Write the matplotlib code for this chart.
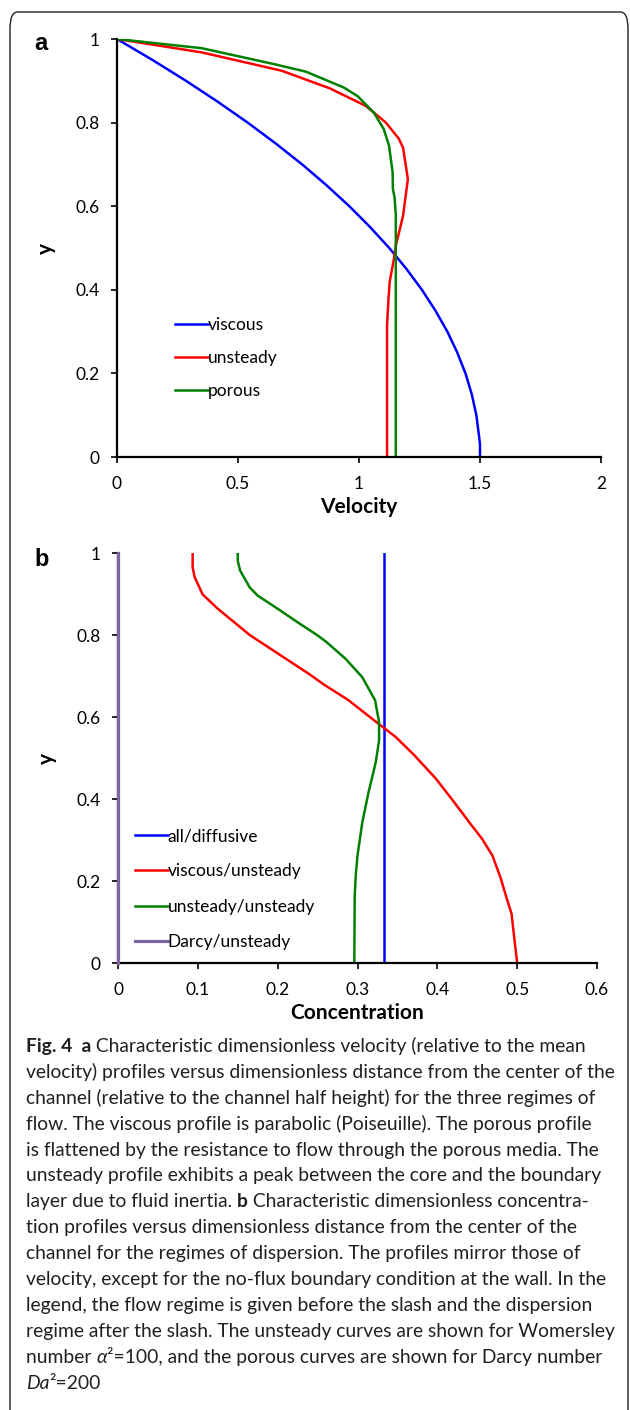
import matplotlib
matplotlib.use('Agg')
import matplotlib.pyplot as plt
from matplotlib.patches import FancyBboxPatch

W, H = 630, 1410

# ---- panel a: velocity profiles (x = velocity, y = distance from centre) ----
visc_y = [1.0, 0.95, 0.9, 0.85, 0.8, 0.75, 0.7, 0.65, 0.6, 0.55, 0.5, 0.45,
          0.4, 0.35, 0.3, 0.25, 0.2, 0.15, 0.1, 0.05, 0.03, 0.0]
visc_u = [0.0, 0.146, 0.285, 0.416, 0.54, 0.656, 0.765, 0.866, 0.96, 1.046,
          1.125, 1.196, 1.26, 1.316, 1.365, 1.406, 1.44, 1.466, 1.485, 1.496,
          1.5, 1.5]

unst_y = [1.0, 0.968, 0.924, 0.882, 0.84, 0.80, 0.762, 0.74, 0.665, 0.577,
          0.505, 0.473, 0.42, 0.38, 0.316, 0.0]
unst_u = [0.0, 0.35, 0.681, 0.879, 1.028, 1.111, 1.164, 1.182, 1.202, 1.182,
          1.152, 1.144, 1.127, 1.122, 1.116, 1.116]

por_y = [1.0, 0.978, 0.94, 0.922, 0.884, 0.863, 0.824, 0.785, 0.745, 0.681,
         0.641, 0.621, 0.58, 0.0]
por_u = [0.0, 0.35, 0.648, 0.78, 0.937, 0.995, 1.061, 1.102, 1.124, 1.139,
         1.140, 1.147, 1.152, 1.152]

# ---- panel b: concentration profiles ----
diff_y = [0.0, 1.0]
diff_c = [0.333, 0.333]

vu_y = [1.0, 0.965, 0.941, 0.899, 0.864, 0.80, 0.704, 0.679, 0.642, 0.584,
        0.551, 0.507, 0.45, 0.40, 0.364, 0.343, 0.303, 0.262, 0.209, 0.157,
        0.12, 0.067, 0.0]
vu_c = [0.0935, 0.0935, 0.096, 0.106, 0.125, 0.165, 0.240, 0.258, 0.288,
        0.326, 0.348, 0.371, 0.398, 0.418, 0.432, 0.440, 0.456, 0.469, 0.479,
        0.487, 0.493, 0.496, 0.500]

uu_y = [1.0, 0.981, 0.957, 0.916, 0.896, 0.864, 0.831, 0.799, 0.783, 0.742,
        0.697, 0.641, 0.588, 0.543, 0.491, 0.45, 0.418, 0.343, 0.262, 0.218,
        0.165, 0.0]
uu_c = [0.150, 0.150, 0.153, 0.165, 0.175, 0.200, 0.225, 0.250, 0.261, 0.285,
        0.306, 0.322, 0.327, 0.327, 0.323, 0.318, 0.314, 0.306, 0.300, 0.298,
        0.2965, 0.296]

darcy_y = [0.0, 1.0]
darcy_c = [0.0, 0.0]

labels_a = ['viscous', 'unsteady', 'porous']
labels_b = ['all/diffusive', 'viscous/unsteady', 'unsteady/unsteady', 'Darcy/unsteady']

BLUE, RED, GREEN, PURPLE = '#0000FF', '#FF0000', '#008000', '#8064A2'
TICK_FONT = 'Lato'
CAP_FONT = 'Lato'

fig = plt.figure(figsize=(W / 100, H / 100), dpi=100)

# rounded frame round the figure
frame = FancyBboxPatch((10 / W, -0.05), 618 / W, 1.05 - 12 / H,
                       boxstyle='round,pad=0,rounding_size=0.012',
                       transform=fig.transFigure, fill=False,
                       edgecolor='#222222', linewidth=1.0)
fig.patches.append(frame)


def px_axes(left, right, top, bottom):
    return fig.add_axes([left / W, 1 - bottom / H, (right - left) / W, (bottom - top) / H])


def style_axes(ax):
    for s in ['top', 'right']:
        ax.spines[s].set_visible(False)
    for s in ['left', 'bottom']:
        ax.spines[s].set_linewidth(1.6)
    ax.tick_params(direction='out', length=4.5, width=1.2, labelsize=12.5)
    ax.tick_params(axis='y', pad=8)
    ax.tick_params(axis='x', pad=9)
    for lab in ax.get_xticklabels() + ax.get_yticklabels():
        lab.set_family(TICK_FONT)


def fmt(v):
    return '%g' % v


lw = 1.8

# ---- panel a ----
axa = px_axes(117, 601, 39, 457)
axa.plot(visc_u, visc_y, color=BLUE, lw=lw, label=labels_a[0])
axa.plot(unst_u, unst_y, color=RED, lw=lw, label=labels_a[1])
axa.plot(por_u, por_y, color=GREEN, lw=lw, label=labels_a[2])
axa.set_xlim(0, 2)
axa.set_ylim(0, 1)
axa.set_xticks([0, 0.5, 1, 1.5, 2])
axa.set_xticklabels([fmt(v) for v in [0, 0.5, 1, 1.5, 2]])
axa.set_yticks([0, 0.2, 0.4, 0.6, 0.8, 1])
axa.set_yticklabels([fmt(v) for v in [0, 0.2, 0.4, 0.6, 0.8, 1]])
style_axes(axa)
axa.set_xlabel('Velocity', family=TICK_FONT, fontweight='bold', fontsize=15, labelpad=4)
axa.set_ylabel('y', family=TICK_FONT, fontweight='bold', fontsize=15, labelpad=14)
axa.legend(loc='center left', bbox_to_anchor=(0.12, 0.237), frameon=False,
           prop={'family': TICK_FONT, 'size': 12.5}, handlelength=1.9,
           handletextpad=0.0, labelspacing=0.97, borderpad=0, borderaxespad=0)

# ---- panel b ----
axb = px_axes(118, 597, 553, 963)
axb.plot(diff_c, diff_y, color=BLUE, lw=lw, label=labels_b[0])
axb.plot(vu_c, vu_y, color=RED, lw=lw, label=labels_b[1])
axb.plot(uu_c, uu_y, color=GREEN, lw=lw, label=labels_b[2])
axb.plot(darcy_c, darcy_y, color=PURPLE, lw=lw + 0.5, label=labels_b[3], clip_on=False, zorder=5)
axb.set_xlim(0, 0.6)
axb.set_ylim(0, 1)
axb.set_xticks([0, 0.1, 0.2, 0.3, 0.4, 0.5, 0.6])
axb.set_xticklabels([fmt(v) for v in [0, 0.1, 0.2, 0.3, 0.4, 0.5, 0.6]])
axb.set_yticks([0, 0.2, 0.4, 0.6, 0.8, 1])
axb.set_yticklabels([fmt(v) for v in [0, 0.2, 0.4, 0.6, 0.8, 1]])
style_axes(axb)
axb.set_xlabel('Concentration', family=TICK_FONT, fontweight='bold', fontsize=15, labelpad=4)
axb.set_ylabel('y', family=TICK_FONT, fontweight='bold', fontsize=15, labelpad=14)
axb.legend(loc='center left', bbox_to_anchor=(0.035, 0.18), frameon=False,
           prop={'family': TICK_FONT, 'size': 12.5}, handlelength=1.9,
           handletextpad=0.0, labelspacing=1.12, borderpad=0, borderaxespad=0)

# panel letters
fig.text(34 / W, 1 - 50 / H, 'a', family='Liberation Sans', fontweight='bold', fontsize=17, va='baseline')
fig.text(34 / W, 1 - 566 / H, 'b', family='Liberation Sans', fontweight='bold', fontsize=17, va='baseline')

# ---- caption ----
cap_lines = [
    [('Fig. 4  a', 'bold', 'normal'), (' Characteristic dimensionless velocity (relative to the mean', 'normal', 'normal')],
    [('velocity) profiles versus dimensionless distance from the center of the', 'normal', 'normal')],
    [('channel (relative to the channel half height) for the three regimes of', 'normal', 'normal')],
    [('flow. The viscous profile is parabolic (Poiseuille). The porous profile', 'normal', 'normal')],
    [('is flattened by the resistance to flow through the porous media. The', 'normal', 'normal')],
    [('unsteady profile exhibits a peak between the core and the boundary', 'normal', 'normal')],
    [('layer due to fluid inertia. ', 'normal', 'normal'), ('b', 'bold', 'normal'),
     (' Characteristic dimensionless concentra-', 'normal', 'normal')],
    [('tion profiles versus dimensionless distance from the center of the', 'normal', 'normal')],
    [('channel for the regimes of dispersion. The profiles mirror those of', 'normal', 'normal')],
    [('velocity, except for the no-flux boundary condition at the wall. In the', 'normal', 'normal')],
    [('legend, the flow regime is given before the slash and the dispersion', 'normal', 'normal')],
    [('regime after the slash. The unsteady curves are shown for Womersley', 'normal', 'normal')],
    [('number ', 'normal', 'normal'), ('α', 'normal', 'italic'),
     ('²=100, and the porous curves are shown for Darcy number', 'normal', 'normal')],
    [('Da', 'normal', 'italic'), ('²=200', 'normal', 'normal')],
]

cap_size = 13.85
renderer = fig.canvas.get_renderer()


def text_w(s, weight, style):
    # width measured between two marker glyphs so spaces count
    t = fig.text(0, 0, '|' + s + '|', family=CAP_FONT, fontsize=cap_size, fontweight=weight, fontstyle=style)
    t2 = fig.text(0, 0, '||', family=CAP_FONT, fontsize=cap_size, fontweight=weight, fontstyle=style)
    w = t.get_window_extent(renderer).width - t2.get_window_extent(renderer).width
    t.remove()
    t2.remove()
    return w


base0 = 1052
step = 25.9
for i, runs in enumerate(cap_lines):
    x = 26.0
    yb = base0 + i * step
    for s, weight, style in runs:
        fig.text(x / W, 1 - yb / H, s, family=CAP_FONT, fontsize=cap_size,
                 fontweight=weight, fontstyle=style, va='baseline', color='#231F20')
        x += text_w(s, weight, style)

fig.savefig('out.png', dpi=100)
